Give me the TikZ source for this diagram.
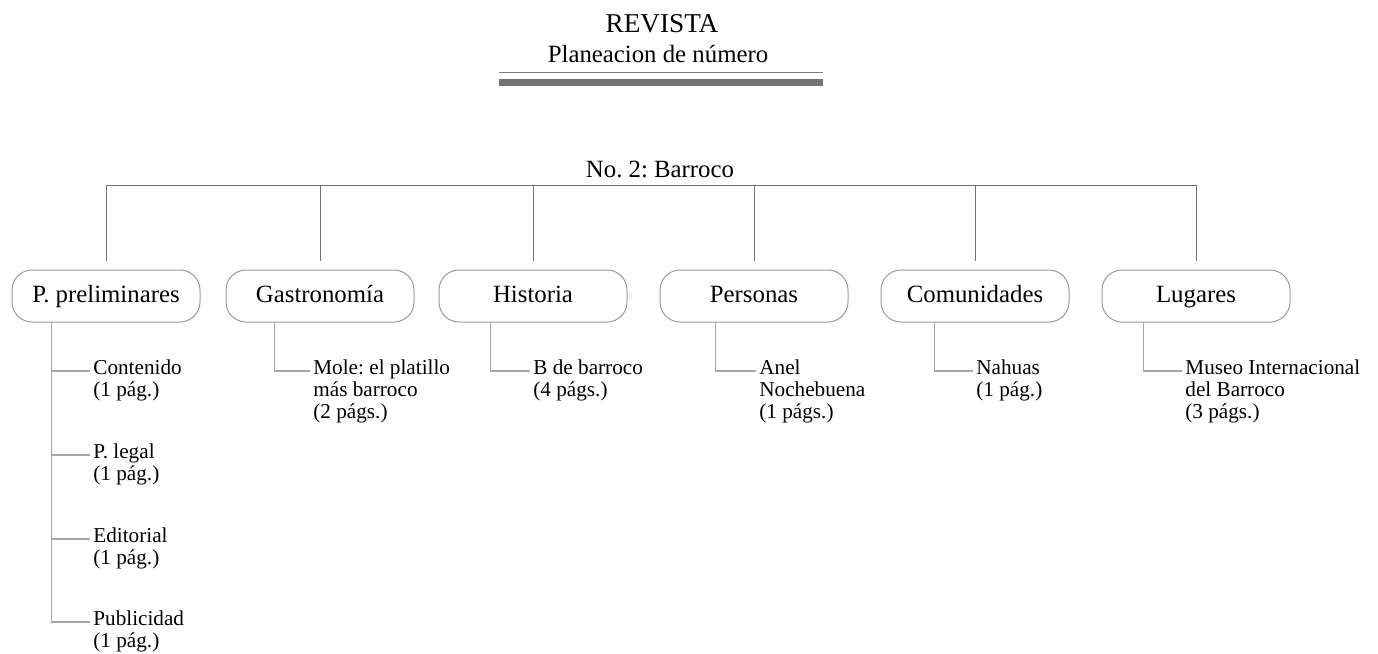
\documentclass[tikz,border=0pt]{standalone}
\usepackage{fontspec}
\setmainfont{Liberation Serif}
\usepackage{tikz}
\frenchspacing

\begin{document}
\begin{tikzpicture}[x=0.5pt,y=-0.5pt,
section/.style={draw=black!40, line width=0.5pt, rounded corners=10pt, minimum width=94pt,
    minimum height=26pt, inner sep=0pt, text height=8.7pt, text depth=2.7pt,
    font=\fontsize{12.4}{14}\selectfont},
item/.style={anchor=north west, align=left, inner sep=0pt, font=\fontsize{10.6}{11}\selectfont},
trunk/.style={draw=black!55, line width=0.5pt},
twig/.style={draw=black!35, line width=0.7pt}]
\useasboundingbox (0,0) rectangle (1378,654);
\node[anchor=base, font=\fontsize{13.6}{15}\selectfont] (title) at (662,32) {REVISTA};
\node[anchor=base, font=\fontsize{12.4}{14}\selectfont] (subtitle) at (658,62) {Planeacion de número};
\draw[black!50, line width=0.5pt] (499,72) -- (823,72);
\fill[black!55] (499,79) rectangle (823,86);
\node[anchor=base, font=\fontsize{12.4}{14}\selectfont] (root) at (660,177) {No. 2: Barroco};
\coordinate (bar) at (660,185);
\node[section] (pre) at (106,296) {P. preliminares};
\node[section] (gas) at (320,296) {Gastronomía};
\node[section] (his) at (533,296) {Historia};
\node[section] (per) at (754,296) {Personas};
\node[section] (com) at (975,296) {Comunidades};
\node[section] (lug) at (1196,296) {Lugares};
\node[item] (cont) at (93,359) {Contenido\\(1 pág.)};
\node[item] (legal) at (93,443) {P. legal\\(1 pág.)};
\node[item] (edit) at (93,527) {Editorial\\(1 pág.)};
\node[item] (publ) at (93,610) {Publicidad\\(1 pág.)};
\node[item] (mole) at (313,359) {Mole: el platillo\\más barroco\\(2 págs.)};
\node[item] (bdb) at (533,359) {B de barroco\\(4 págs.)};
\node[item] (anel) at (759,359) {Anel\\Nochebuena\\(1 págs.)};
\node[item] (nah) at (976,359) {Nahuas\\(1 pág.)};
\node[item] (mus) at (1185,359) {Museo Internacional\\del Barroco\\(3 págs.)};
\draw[trunk] (pre.north |- bar) -- (lug.north |- bar);
\foreach \s in {pre,gas,his,per,com,lug}
  \draw[trunk] ([shift={(0,-9)}]\s.north) -- (\s.north |- bar);
\foreach \i in {cont,legal,edit,publ}
  \draw[twig] ([shift={(40,0)}]pre.south west) |- ([shift={(-3,12)}]\i.north west);
\foreach \s/\dx/\i in {gas/49/mole, his/52/bdb, per/56/anel, com/54/nah, lug/42/mus}
  \draw[twig] ([shift={(\dx,0)}]\s.south west) |- ([shift={(-3,12)}]\i.north west);
\end{tikzpicture}
\end{document}
